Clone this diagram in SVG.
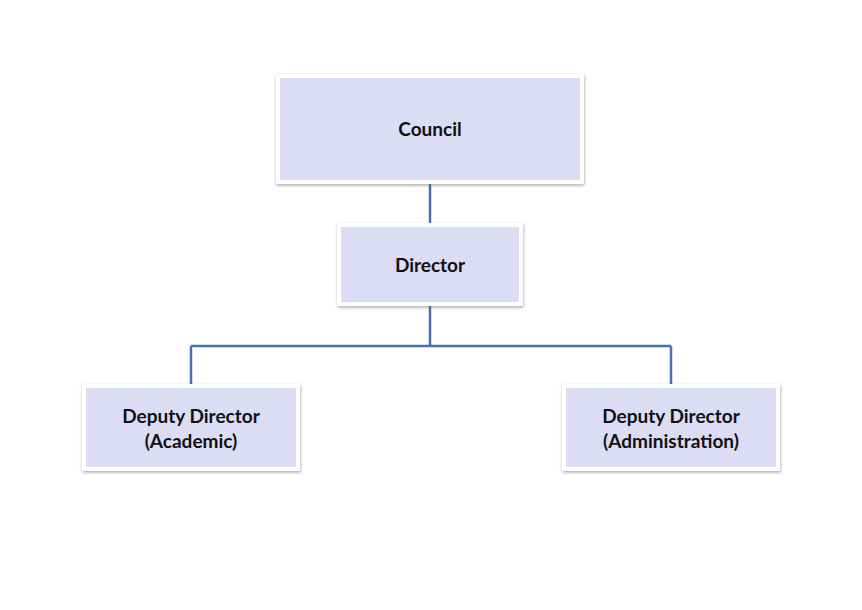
<svg xmlns="http://www.w3.org/2000/svg" width="862" height="610" viewBox="0 0 862 610">
<style>
.box{fill:#dcdcf5;stroke:#ffffff;stroke-width:4;filter:url(#sh)}
.lbl{font-family:Lato,"Open Sans",sans-serif;font-weight:bold;font-size:19px;fill:#111111;text-anchor:middle}
.con{stroke:#4a71ae;stroke-width:2.5;fill:none}
</style>
<defs>
<filter id="sh" x="-10%" y="-10%" width="120%" height="130%">
<feDropShadow dx="0.5" dy="1.5" stdDeviation="1.5" flood-color="#707070" flood-opacity="0.6"/>
</filter>
</defs>
<rect width="862" height="610" fill="#ffffff"/>
<g id="connectors">
<path class="con" d="M430 182V225"/>
<path class="con" d="M430 304V346M191 346H671M191 346V386M671 346V386"/>
</g>
<g id="council">
<rect class="box" x="278" y="76" width="304" height="106"/>
<text class="lbl" x="430" y="136">Council</text>
</g>
<g id="director">
<rect class="box" x="339" y="225" width="182" height="79"/>
<text class="lbl" x="430" y="272">Director</text>
</g>
<g id="deputy-academic">
<rect class="box" x="84" y="386" width="214" height="83"/>
<text class="lbl" x="191" y="423">Deputy Director</text>
<text class="lbl" x="191" y="448">(Academic)</text>
</g>
<g id="deputy-admin">
<rect class="box" x="564" y="386" width="214" height="83"/>
<text class="lbl" x="671" y="423">Deputy Director</text>
<text class="lbl" x="671" y="448">(Administration)</text>
</g>
</svg>
